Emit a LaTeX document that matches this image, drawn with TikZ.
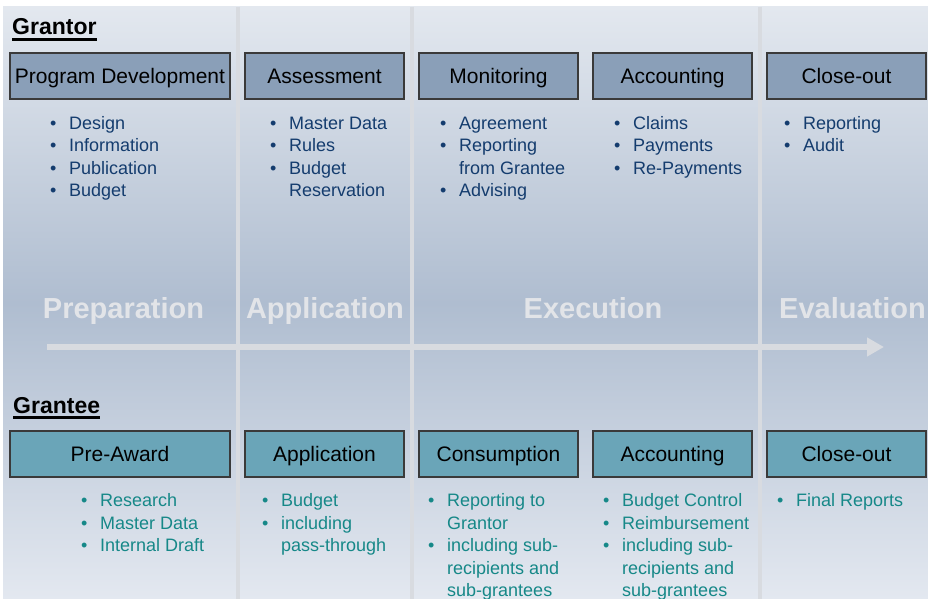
\documentclass[tikz,border=0pt]{standalone}
\usepackage{fontspec}
\setmainfont{Liberation Sans}
\usetikzlibrary{arrows.meta}
\definecolor{bgTop}{HTML}{E3E8EF}
\definecolor{bgMid}{HTML}{AFBDD0}
\definecolor{bgBot}{HTML}{E3E8F0}
\definecolor{sepCol}{HTML}{D8DBE0}
\definecolor{phaseCol}{HTML}{E2E4E8}
\definecolor{grantorFill}{HTML}{8A9FB8}
\definecolor{granteeFill}{HTML}{6AA5B8}
\definecolor{boxBorder}{HTML}{3A3A3A}
\definecolor{navyText}{HTML}{143C6E}
\definecolor{tealText}{HTML}{168888}
\newcommand\blist[1]{\begin{tabular}[t]{@{}l@{\hspace{12.8pt}}l@{}}#1\end{tabular}}
\newcommand\bi{\textbullet&}
\tikzset{
  phasebox/.style={draw=boxBorder, line width=1.1pt, inner sep=0pt,
    minimum height=46pt, text height=15pt, text depth=0pt,
    font=\fontsize{21}{25}\selectfont, text=black},
  grantorbox/.style={phasebox, fill=grantorFill},
  granteebox/.style={phasebox, fill=granteeFill},
  itemlist/.style={anchor=base west, inner sep=0pt,
    font=\fontsize{18}{22.5}\selectfont},
  rowtitle/.style={anchor=base west, inner sep=0pt,
    font=\fontsize{23}{27}\selectfont\bfseries, text=black},
  phaselabel/.style={anchor=base, inner sep=0pt,
    font=\fontsize{29}{33}\selectfont\bfseries, text=phaseCol},
  sepline/.style={draw=sepCol, line width=4pt},
}
\begin{document}
\begin{tikzpicture}[x=1pt,y=-1pt]
\useasboundingbox (0,0) rectangle (928,599);
% background
\shade[top color=bgTop, bottom color=bgBot, middle color=bgMid] (3,7) rectangle (928,599);
% separators
\coordinate (s1t) at (237.5,7); \coordinate (s1b) at (237.5,599);
\coordinate (s2t) at (412,7); \coordinate (s2b) at (412,599);
\coordinate (s3t) at (759.5,7); \coordinate (s3b) at (759.5,599);
\draw[sepline] (s1t) -- (s1b);
\draw[sepline] (s2t) -- (s2b);
\draw[sepline] (s3t) -- (s3b);
% arrow
\coordinate (arrS) at (47,347); \coordinate (arrE) at (884,347);
\draw[draw=sepCol, line width=6pt, -{Triangle[length=17pt,width=18pt]}] (arrS) -- (arrE);
% phase labels
\node[phaselabel] (pPrep) at (123.5,318) {Preparation};
\node[phaselabel] (pAppl) at (325,318) {Application};
\node[phaselabel] (pExec) at (593,318) {Execution};
\node[phaselabel] (pEval) at (852.5,318) {Evaluation};
% titles
\node[rowtitle] (tGrantor) at (12,35) {Grantor};
\draw[line width=2.2pt] ([yshift=-4.5pt]tGrantor.base west) -- ([yshift=-4.5pt]tGrantor.base east);
\node[rowtitle] (tGrantee) at (13,413) {Grantee};
\draw[line width=2.2pt] ([yshift=-4.5pt]tGrantee.base west) -- ([yshift=-4.5pt]tGrantee.base east);
% grantor boxes
\node[grantorbox, minimum width=220pt] (g1) at (120,76) {Program Development};
\node[grantorbox, minimum width=159pt] (g2) at (324.5,76) {Assessment};
\node[grantorbox, minimum width=159pt] (g3) at (498.5,76) {Monitoring};
\node[grantorbox, minimum width=159pt] (g4) at (672.5,76) {Accounting};
\node[grantorbox, minimum width=159pt] (g5) at (846.5,76) {Close-out};
% grantee boxes
\node[granteebox, minimum width=220pt] (e1) at (120,454) {Pre-Award};
\node[granteebox, minimum width=159pt] (e2) at (324.5,454) {Application};
\node[granteebox, minimum width=159pt] (e3) at (498.5,454) {Consumption};
\node[granteebox, minimum width=159pt] (e4) at (672.5,454) {Accounting};
\node[granteebox, minimum width=159pt] (e5) at (846.5,454) {Close-out};
% grantor lists
\node[itemlist, text=navyText] (gl1) at (49.9,129) {\blist{\bi Design\\ \bi Information\\ \bi Publication\\ \bi Budget}};
\node[itemlist, text=navyText] (gl2) at (269.9,129) {\blist{\bi Master Data\\ \bi Rules\\ \bi Budget\\ & Reservation}};
\node[itemlist, text=navyText] (gl3) at (439.9,129) {\blist{\bi Agreement\\ \bi Reporting\\ & from Grantee\\ \bi Advising}};
\node[itemlist, text=navyText] (gl4) at (613.9,129) {\blist{\bi Claims\\ \bi Payments\\ \bi Re-Payments}};
\node[itemlist, text=navyText] (gl5) at (783.9,129) {\blist{\bi Reporting\\ \bi Audit}};
% grantee lists
\node[itemlist, text=tealText] (el1) at (80.9,506.5) {\blist{\bi Research\\ \bi Master Data\\ \bi Internal Draft}};
\node[itemlist, text=tealText] (el2) at (261.9,506.5) {\blist{\bi Budget\\ \bi including\\ & pass-through}};
\node[itemlist, text=tealText] (el3) at (427.9,506.5) {\blist{\bi Reporting to\\ & Grantor\\ \bi including sub-\\ & recipients and\\ & sub-grantees}};
\node[itemlist, text=tealText] (el4) at (602.9,506.5) {\blist{\bi Budget Control\\ \bi Reimbursement\\ \bi including sub-\\ & recipients and\\ & sub-grantees}};
\node[itemlist, text=tealText] (el5) at (776.9,506.5) {\blist{\bi Final Reports}};
\end{tikzpicture}
\end{document}
